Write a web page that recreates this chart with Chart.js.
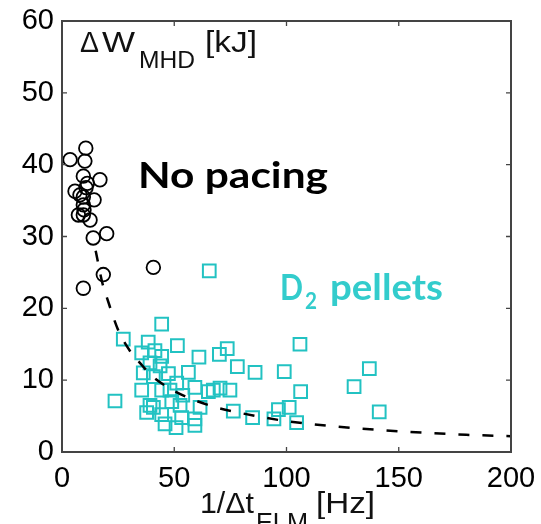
<!DOCTYPE html>
<html><head><meta charset="utf-8">
<script src="https://cdn.jsdelivr.net/npm/chart.js@4.4.1/dist/chart.umd.min.js"></script>
<style>html,body{margin:0;padding:0;background:#fff;overflow:hidden}canvas{display:block}</style>
</head><body>
<canvas id="c" width="541" height="524"></canvas>
<script>
// ---- data ----
const xTicks = [0, 50, 100, 150, 200];
const yTicks = [0, 10, 20, 30, 40, 50, 60];

// "No pacing" (black circles)
const noPacingX = [10.6, 3.6, 10.2, 9.5, 16.9, 11.3, 10.7, 5.8, 8.0, 14.3, 9.5, 9.5, 9.8, 7.3, 9.5, 12.5, 13.9, 19.9, 40.7, 18.4, 9.5];
const noPacingY = [42.3, 40.7, 40.5, 38.4, 37.9, 37.4, 36.8, 36.3, 35.8, 35.1, 35.5, 34.4, 33.7, 33.0, 33.0, 32.3, 29.8, 30.4, 25.7, 24.7, 22.8];

// "D2 pellets" (cyan squares)
const pelletsX = [27.3, 38.4, 51.4, 35.5, 41.4, 44.4, 39.2, 43.7, 36.2, 47.4, 40.7, 51.1, 35.5, 44.4, 48.1, 53.8, 23.6, 39.2, 40.7, 48.9, 52.6, 37.7, 44.4, 53.3, 45.9, 50.8, 44.4,
                  65.6, 61.0, 70.1, 73.6, 78.1, 56.3, 86.0, 59.2, 65.2, 67.4, 70.4, 74.8, 61.5, 76.3, 84.9, 59.2, 59.2,
                  106.0, 99.0, 106.3, 96.4, 101.2, 94.4, 104.5, 130.1, 136.9, 141.3];
const pelletsY = [15.7, 15.3, 14.8, 13.8, 14.1, 13.3, 12.4, 12.0, 11.0, 10.9, 10.5, 9.6, 8.6, 8.6, 8.6, 7.9, 7.1, 6.5, 6.2, 7.0, 6.5, 5.5, 5.2, 4.8, 3.9, 3.4, 17.8,
                  25.2, 13.2, 13.6, 14.4, 11.9, 11.1, 11.1, 9.0, 8.4, 8.6, 8.9, 8.6, 6.2, 5.7, 4.8, 4.6, 3.7,
                  15.0, 11.2, 8.4, 5.9, 6.2, 4.6, 4.1, 9.1, 11.6, 5.6];

// dashed fit curve, points read along it
const fitX = [15, 18, 20, 25, 30, 35, 40, 50, 60, 70, 80, 90, 100, 120, 140, 160, 180, 200];
const fitY = [28, 23.5, 21.5, 17, 14.2, 12.3, 10.6, 8.5, 7.1, 6.1, 5.4, 4.8, 4.3, 3.6, 3.1, 2.7, 2.4, 2.2];

const zip = (xs, ys) => xs.map((x, i) => ({x: x, y: ys[i]}));

function txt(ctx, s, x, y, font, color, w) {
  ctx.save();
  ctx.font = font; ctx.fillStyle = color;
  ctx.textBaseline = 'alphabetic'; ctx.textAlign = 'left';
  ctx.translate(x, y);
  if (w) { const m = ctx.measureText(s).width; ctx.scale(w / m, 1); }
  ctx.fillText(s, 0, 0);
  ctx.restore();
}

const deco = {
  id: 'deco',
  afterDraw(chart) {
    const ctx = chart.ctx, a = chart.chartArea;
    const xs = chart.scales.x, ys = chart.scales.y;
    ctx.save();
    ctx.strokeStyle = '#444'; ctx.lineWidth = 2;
    ctx.strokeRect(a.left, a.top, a.right - a.left, a.bottom - a.top);
    ctx.lineWidth = 1.3;
    ctx.beginPath();
    xTicks.forEach(v => { const p = xs.getPixelForValue(v);
      ctx.moveTo(p, a.bottom); ctx.lineTo(p, a.bottom - 5);
      ctx.moveTo(p, a.top); ctx.lineTo(p, a.top + 5); });
    yTicks.forEach(v => { const p = ys.getPixelForValue(v);
      ctx.moveTo(a.left, p); ctx.lineTo(a.left + 5, p);
      ctx.moveTo(a.right, p); ctx.lineTo(a.right - 5, p); });
    ctx.stroke();
    ctx.restore();
    const sans = '"Liberation Sans", Arial, sans-serif';
    // y label inside plot
    txt(ctx, 'Δ', 80, 52, '29px ' + sans, '#111', 19);
    txt(ctx, 'W', 102, 52, '29px ' + sans, '#111', 33);
    txt(ctx, 'MHD', 139, 68, '24px ' + sans, '#111', 56);
    txt(ctx, '[kJ]', 205, 52, '29px ' + sans, '#111', 52);
    // x title
    txt(ctx, '1/Δt', 200, 513, '30px ' + sans, '#111', 54);
    txt(ctx, 'ELM', 256, 531, '25px ' + sans, '#111', 52);
    txt(ctx, '[Hz]', 316, 513, '30px ' + sans, '#111', 59);
    // annotations
    txt(ctx, 'No pacing', 138, 188, 'bold 36px Lato, sans-serif', '#000', 190);
    txt(ctx, 'D', 280, 300, 'bold 36px Lato, sans-serif', '#33cccc', 23);
    txt(ctx, '2', 305, 309, 'bold 22px Lato, sans-serif', '#33cccc', 12);
    txt(ctx, 'pellets', 330, 300, 'bold 36px Lato, sans-serif', '#33cccc', 113);
  }
};

new Chart(document.getElementById('c'), {
  type: 'scatter',
  data: {
    datasets: [
      { type: 'line', data: zip(fitX, fitY), borderColor: '#000', borderWidth: 2.5,
        borderDash: [11, 13], pointRadius: 0, fill: false, cubicInterpolationMode: 'monotone' },
      { data: zip(noPacingX, noPacingY), pointStyle: 'circle', pointRadius: 6.8,
        borderColor: '#000', borderWidth: 1.8, backgroundColor: 'rgba(0,0,0,0)' },
      { data: zip(pelletsX, pelletsY), pointStyle: 'rect', pointRadius: 9,
        borderColor: '#22c2c2', borderWidth: 2, backgroundColor: 'rgba(0,0,0,0)' }
    ]
  },
  options: {
    responsive: false, animation: false,
    layout: { padding: { top: 21, right: 30, left: 0, bottom: 0 } },
    plugins: { legend: { display: false }, tooltip: { enabled: false } },
    scales: {
      x: { type: 'linear', min: 0, max: 200,
        afterFit: s => { s.height = 72; s.paddingLeft = 0; s.paddingRight = 0; },
        afterBuildTicks: s => { s.ticks = xTicks.map(v => ({value: v})); },
        grid: { display: false }, border: { display: false },
        ticks: { padding: 2, color: '#000', font: { family: 'Liberation Sans', size: 29 }, maxRotation: 0 } },
      y: { type: 'linear', min: 0, max: 60,
        afterFit: s => { s.width = 62; s.paddingTop = 0; s.paddingBottom = 0; },
        afterBuildTicks: s => { s.ticks = yTicks.map(v => ({value: v})); },
        grid: { display: false }, border: { display: false },
        ticks: { padding: 0, color: '#000', font: { family: 'Liberation Sans', size: 29 } } }
    }
  },
  plugins: [deco]
});
</script>
</body></html>
